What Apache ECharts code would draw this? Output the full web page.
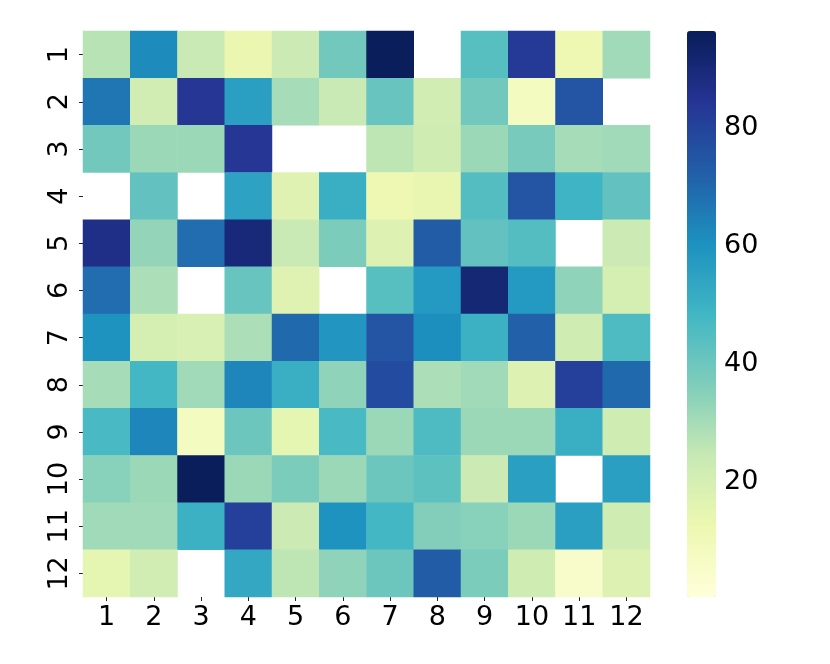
<!DOCTYPE html>
<html>
<head>
<meta charset="utf-8">
<script src="https://cdn.jsdelivr.net/npm/echarts@6/dist/echarts.min.js"></script>
<style>
  html, body { margin: 0; padding: 0; background: #fff; }
  #main { width: 830px; height: 664px; }
</style>
</head>
<body>
<div id="main"></div>
<script>
// row / column labels
const colLabels = ['1', '2', '3', '4', '5', '6', '7', '8', '9', '10', '11', '12']
const rowLabels = ['1', '2', '3', '4', '5', '6', '7', '8', '9', '10', '11', '12']

// values per row (top to bottom), null = missing cell
const row1 = [27, 62, 24, 13, 23, 39, 96, null, 44, 83, 12, 31]
const row2 = [67, 21, 84, 56, 30, 24, 41, 21, 39, 8, 75, null]
const row3 = [39, 32, 32, 84, null, null, 26, 22, 32, 38, 30, 31]
const row4 = [null, 42, null, 55, 17, 51, 12, 14, 45, 75, 49, 42]
const row5 = [87, 33, 69, 90, 24, 37, 18, 73, 42, 45, null, 23]
const row6 = [69, 29, null, 41, 17, null, 44, 58, 91, 58, 34, 20]
const row7 = [60, 20, 19, 29, 70, 59, 75, 61, 50, 72, 22, 46]
const row8 = [30, 48, 31, 63, 51, 34, 78, 29, 31, 18, 81, 70]
const row9 = [47, 63, 8, 40, 15, 47, 32, 46, 32, 32, 51, 22]
const row10 = [35, 32, 96, 32, 37, 32, 40, 43, 23, 56, null, 56]
const row11 = [31, 31, 50, 81, 23, 60, 48, 36, 35, 32, 56, 22]
const row12 = [15, 21, null, 53, 26, 34, 40, 73, 37, 22, 5, 18]

// colour bar range and ticks
const vMin = 0.5
const vMax = 96.5
const barTicks = [20, 40, 60, 80]

// YlGnBu
const ylGnBu = ['#ffffd9', '#edf8b1', '#c7e9b4', '#7fcdbb', '#41b6c4', '#1d91c0', '#225ea8', '#253494', '#081d58']

const rows = [row1, row2, row3, row4, row5, row6, row7, row8, row9, row10, row11, row12]
const data = []
rows.forEach((r, y) => {
    r.forEach((v, x) => {
        data.push([x, y, v == null ? '-' : v])
    })
})

const font = 'DejaVu Sans'
const tickColor = '#222'

const option = {
    animation: false,
    backgroundColor: '#fff',
    grid: [
        { left: 83, top: 31, width: 567, height: 566 },
        // colour bar axis
        { left: 687, top: 31, width: 29, height: 566 }
    ],
    xAxis: [
        {
            type: 'category',
            gridIndex: 0,
            data: colLabels,
            axisLine: { show: false },
            axisTick: { show: true, alignWithLabel: true, length: 4, lineStyle: { color: tickColor } },
            axisLabel: { fontFamily: font, fontSize: 27, color: '#000', margin: 7 },
            splitLine: { show: false }
        },
        {
            type: 'value',
            gridIndex: 1,
            show: false
        }
    ],
    yAxis: [
        {
            type: 'category',
            gridIndex: 0,
            data: rowLabels,
            inverse: true,
            axisLine: { show: false },
            axisTick: { show: true, alignWithLabel: true, length: 4, lineStyle: { color: tickColor } },
            axisLabel: { fontFamily: font, fontSize: 27, color: '#000', rotate: 90, margin: 10 },
            splitLine: { show: false }
        },
        {
            type: 'value',
            gridIndex: 1,
            position: 'right',
            min: vMin,
            max: vMax,
            axisLine: { show: false },
            axisTick: { show: true, length: 4, customValues: barTicks, lineStyle: { color: tickColor } },
            axisLabel: { fontFamily: font, fontSize: 27, color: '#000', margin: 8, customValues: barTicks },
            splitLine: { show: false }
        }
    ],
    visualMap: {
        type: 'continuous',
        min: vMin,
        max: vMax,
        seriesIndex: 0,
        calculable: false,
        hoverLink: false,
        left: 687,
        top: 31,
        padding: 0,
        itemWidth: 29,
        itemHeight: 566,
        inRange: { color: ylGnBu },
        textStyle: { color: 'transparent' }
    },
    series: [
        {
            type: 'heatmap',
            xAxisIndex: 0,
            yAxisIndex: 0,
            data: data,
            itemStyle: { borderWidth: 0 },
            emphasis: { disabled: true }
        }
    ]
}

const myChart = echarts.init(document.getElementById('main'), null, { renderer: 'canvas' })
myChart.setOption(option)
</script>
</body>
</html>
